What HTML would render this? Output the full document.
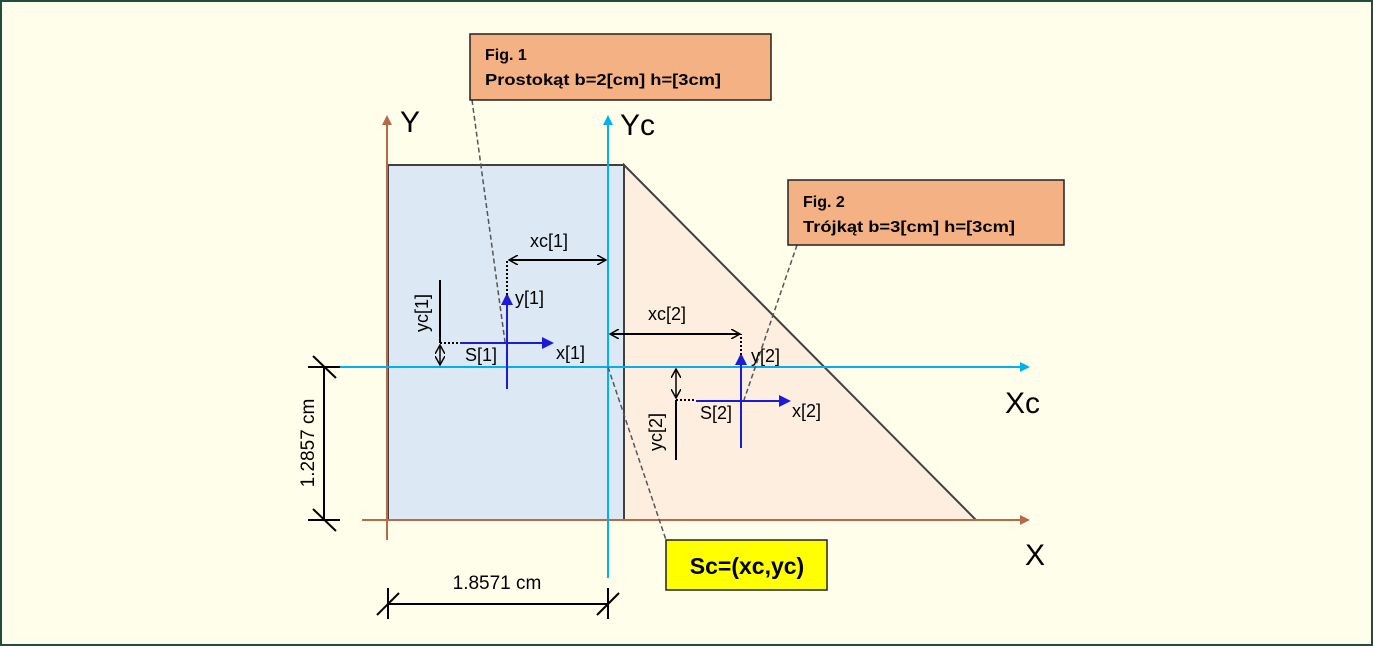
<!DOCTYPE html>
<html><head><style>
body{margin:0;background:#fff;}
svg{display:block;font-family:"Liberation Sans",sans-serif;}
</style></head><body>
<svg width="1373" height="646" viewBox="0 0 1373 646">
<defs>
<marker id="br" markerWidth="10" markerHeight="10" refX="8" refY="5" orient="auto" markerUnits="userSpaceOnUse"><path d="M0,0 L10,5 L0,10 Z" fill="#b86a48"/></marker>
<marker id="cy" markerWidth="10" markerHeight="10" refX="8" refY="5" orient="auto" markerUnits="userSpaceOnUse"><path d="M0,0 L10,5 L0,10 Z" fill="#00b0f0"/></marker>
<marker id="bl" markerWidth="12" markerHeight="12" refX="10" refY="6" orient="auto" markerUnits="userSpaceOnUse"><path d="M0,0 L12,6 L0,12 Z" fill="#1c1cd8"/></marker>
<marker id="ka" markerWidth="10" markerHeight="10" refX="9" refY="5" orient="auto-start-reverse" markerUnits="userSpaceOnUse"><path d="M0,0 L9,5 L0,10" fill="none" stroke="#000" stroke-width="1.5"/></marker>
</defs>
<rect x="1" y="1" width="1371" height="644" fill="#fffeea" stroke="#1f4e3d" stroke-width="2"/>
<rect x="388" y="165" width="236" height="355" fill="#dde8f5" stroke="#404040" stroke-width="2"/>
<polygon points="624,165 976,520 624,520" fill="#fdeee0" stroke="#404040" stroke-width="2"/>
<line x1="387" y1="540" x2="387" y2="117" stroke="#b86a48" stroke-width="2" marker-end="url(#br)"/>
<line x1="362" y1="520" x2="1028" y2="520" stroke="#b86a48" stroke-width="2" marker-end="url(#br)"/>
<line x1="608" y1="578" x2="608" y2="117" stroke="#00b0f0" stroke-width="2" marker-end="url(#cy)"/>
<line x1="340" y1="367" x2="1028" y2="367" stroke="#00b0f0" stroke-width="2" marker-end="url(#cy)"/>
<text x="400" y="132" font-size="30">Y</text>
<text x="620" y="135" font-size="30">Yc</text>
<text x="1005" y="413" font-size="30">Xc</text>
<text x="1025" y="565" font-size="30">X</text>
<g stroke="#555" stroke-width="1.5" stroke-dasharray="5,3" fill="none">
<line x1="472" y1="100" x2="505" y2="342"/>
<line x1="797" y1="245" x2="744" y2="400"/>
<line x1="608" y1="367" x2="666" y2="540"/>
</g>
<line x1="460" y1="343" x2="552" y2="343" stroke="#1c1cd8" stroke-width="2" marker-end="url(#bl)"/>
<line x1="507" y1="389" x2="507" y2="295" stroke="#1c1cd8" stroke-width="2" marker-end="url(#bl)"/>
<line x1="507" y1="295" x2="507" y2="260" stroke="#000" stroke-width="2" stroke-dasharray="2,2"/>
<line x1="509" y1="260" x2="606" y2="260" stroke="#000" stroke-width="2" marker-start="url(#ka)" marker-end="url(#ka)"/>
<text x="530" y="247" font-size="18">xc[1]</text>
<text x="515" y="304" font-size="18">y[1]</text>
<text x="556" y="359" font-size="18">x[1]</text>
<text x="465" y="361" font-size="18">S[1]</text>
<line x1="440" y1="280" x2="440" y2="343" stroke="#000" stroke-width="2"/>
<line x1="440" y1="343" x2="460" y2="343" stroke="#000" stroke-width="2" stroke-dasharray="2,2"/>
<line x1="440" y1="345" x2="440" y2="365" stroke="#000" stroke-width="1.5" marker-start="url(#ka)" marker-end="url(#ka)"/>
<text transform="translate(428,313) rotate(-90)" text-anchor="middle" font-size="18">yc[1]</text>
<line x1="696" y1="401" x2="789" y2="401" stroke="#1c1cd8" stroke-width="2" marker-end="url(#bl)"/>
<line x1="741" y1="448" x2="741" y2="355" stroke="#1c1cd8" stroke-width="2" marker-end="url(#bl)"/>
<line x1="741" y1="355" x2="741" y2="334" stroke="#000" stroke-width="2" stroke-dasharray="2,2"/>
<line x1="610" y1="334" x2="740" y2="334" stroke="#000" stroke-width="2" marker-start="url(#ka)" marker-end="url(#ka)"/>
<text x="648" y="320" font-size="18">xc[2]</text>
<text x="751" y="362" font-size="18">y[2]</text>
<text x="792" y="417" font-size="18">x[2]</text>
<text x="700" y="419" font-size="18">S[2]</text>
<line x1="676" y1="400" x2="676" y2="460" stroke="#000" stroke-width="2"/>
<line x1="676" y1="400" x2="696" y2="400" stroke="#000" stroke-width="2" stroke-dasharray="2,2"/>
<line x1="676" y1="369" x2="676" y2="398" stroke="#000" stroke-width="1.5" marker-start="url(#ka)" marker-end="url(#ka)"/>
<text transform="translate(662,432) rotate(-90)" text-anchor="middle" font-size="18">yc[2]</text>
<g stroke="#000" stroke-width="2">
<line x1="324" y1="367" x2="324" y2="520"/>
<line x1="308" y1="367" x2="340" y2="367"/>
<line x1="308" y1="520" x2="340" y2="520"/>
<line x1="313" y1="356" x2="336" y2="378"/>
<line x1="313" y1="509" x2="336" y2="531"/>
<line x1="388" y1="604" x2="608" y2="604"/>
<line x1="388" y1="588" x2="388" y2="619"/>
<line x1="608" y1="588" x2="608" y2="619"/>
<line x1="377" y1="615" x2="399" y2="593"/>
<line x1="597" y1="615" x2="619" y2="593"/>
</g>
<text transform="translate(314,443) rotate(-90)" text-anchor="middle" font-size="19">1.2857 cm</text>
<text x="497" y="589" text-anchor="middle" font-size="19">1.8571 cm</text>
<rect x="470" y="34" width="301" height="66" fill="#f4b183" stroke="#222" stroke-width="1.5"/>
<text x="485" y="60" font-size="16" font-weight="bold">Fig. 1</text>
<text x="485" y="85" font-size="16" font-weight="bold" textLength="236" lengthAdjust="spacingAndGlyphs">Prostokąt  b=2[cm] h=[3cm]</text>
<rect x="788" y="180" width="276" height="65" fill="#f4b183" stroke="#222" stroke-width="1.5"/>
<text x="803" y="207" font-size="16" font-weight="bold">Fig. 2</text>
<text x="803" y="232" font-size="16" font-weight="bold" textLength="212" lengthAdjust="spacingAndGlyphs">Trójkąt b=3[cm] h=[3cm]</text>
<rect x="666" y="540" width="161" height="50" fill="#ffff00" stroke="#222" stroke-width="1.5"/>
<text x="747" y="574" text-anchor="middle" font-size="23" font-weight="bold">Sc=(xc,yc)</text>
</svg>
</body></html>
